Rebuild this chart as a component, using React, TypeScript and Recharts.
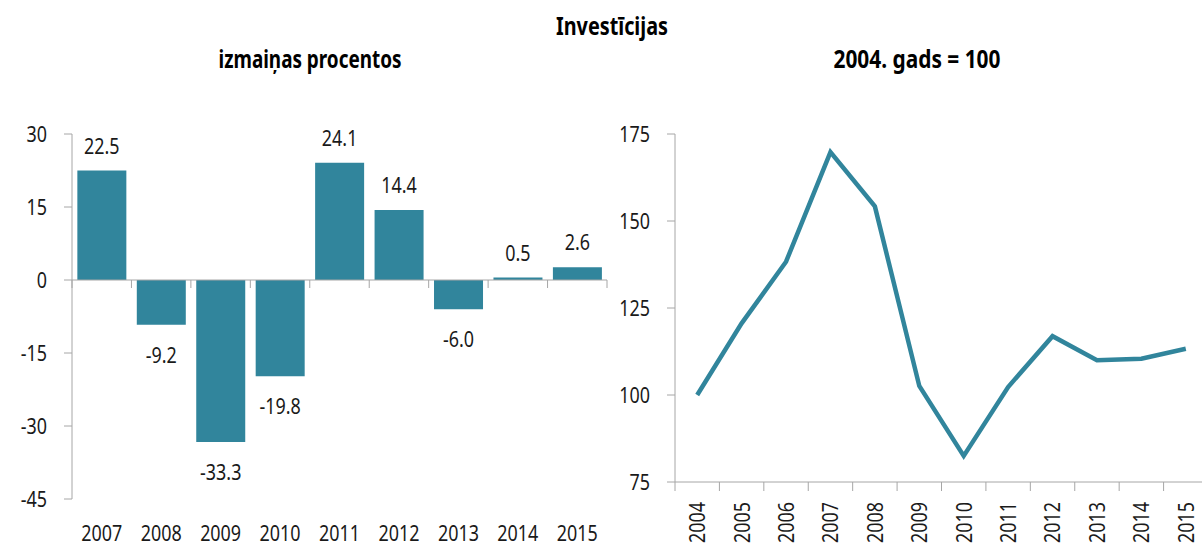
import React from 'react';
import {
    BarChart, Bar, LineChart, Line, XAxis, YAxis, ReferenceLine, LabelList,
} from 'recharts';

// izmaiņas procentos
const growthYears = ['2007', '2008', '2009', '2010', '2011', '2012', '2013', '2014', '2015'];
const growthValues = [22.5, -9.2, -33.3, -19.8, 24.1, 14.4, -6.0, 0.5, 2.6];
const growthTicks = [-45, -30, -15, 0, 15, 30];

// 2004. gads = 100
const indexYears = ['2004', '2005', '2006', '2007', '2008', '2009', '2010', '2011', '2012', '2013', '2014', '2015'];
const indexValues = [100, 120.6, 138.3, 169.8, 154.2, 102.6, 82.5, 102.3, 116.9, 110.0, 110.4, 113.3];
const indexTicks = [75, 100, 125, 150, 175];

const FONT = '"Noto Sans", sans-serif';
const FS = 22.4;
const SX = 0.8; // šaurāks burtu platums kā oriģinālā
const TEAL = '#31859C';
const AXIS = '#a6a6a6';
const TEXT = '#1a1a1a';

const growthData = growthYears.map((year, i) => ({ year, value: growthValues[i] }));
const indexData = indexYears.map((year, i) => ({ year, value: indexValues[i] }));

const NarrowText = ({ x, y, anchor = 'middle', dy = 0, rotate = 0, children }: any) => (
    <g transform={`translate(${x} ${y}) rotate(${rotate}) scale(${SX} 1)`}>
        <text x={0} y={0} dy={dy} textAnchor={anchor} fill={TEXT} fontSize={FS} fontFamily={FONT}>
            {children}
        </text>
    </g>
);

const YTick = (props: any) => {
    const { x, y, payload } = props;
    return <NarrowText x={x} y={y} anchor="end" dy="0.355em">{payload.value}</NarrowText>;
};

const XTick = (props: any) => {
    const { x, y, payload } = props;
    return <NarrowText x={x} y={y} dy="0.71em">{payload.value}</NarrowText>;
};

// vērtības virs / zem stabiņiem
const BarValue = (props: any) => {
    const { x, y, width, height, value } = props;
    const top = Math.min(y, y + height);
    const bottom = Math.max(y, y + height);
    const ty = value >= 0 ? top - 17 : bottom + 38;
    return <NarrowText x={x + width / 2} y={ty}>{Number(value).toFixed(1)}</NarrowText>;
};

// nulles līnija ar iedaļām starp kategorijām
const ZeroLine = (props: any) => {
    const { x1, x2, y1 } = props;
    const n = growthYears.length;
    const step = (x2 - x1) / n;
    return (
        <g>
            <line x1={x1} x2={x2} y1={y1} y2={y1} stroke={AXIS} strokeWidth={1} />
            {Array.from({ length: n + 1 }, (_, i) => (
                <line key={i} x1={x1 + i * step} x2={x1 + i * step} y1={y1} y2={y1 + 8} stroke={AXIS} strokeWidth={1} />
            ))}
        </g>
    );
};

const RotatedYearTick = (props: any) => {
    const { x, y, payload, index } = props;
    const half = payload && payload.offset ? payload.offset : 22.2;
    const isLast = index === indexYears.length - 1;
    return (
        <g>
            <line x1={x - half} x2={x - half} y1={y} y2={y + 9} stroke={AXIS} />
            {isLast && <line x1={x + half} x2={x + half} y1={y} y2={y + 9} stroke={AXIS} />}
            <NarrowText x={x} y={y + 20} anchor="end" dy="0.355em" rotate={-90}>{payload.value}</NarrowText>
        </g>
    );
};

const Title = ({ x, y, len, children }: any) => (
    <text
        x={x}
        y={y}
        textAnchor="middle"
        fontSize={25}
        fontWeight="bold"
        fontFamily={FONT}
        fill="#000"
        textLength={len}
        lengthAdjust="spacingAndGlyphs"
    >
        {children}
    </text>
);

export default function App() {
    return (
        <div style={{ position: 'absolute', left: 0, top: 0, width: 1202, height: 547, overflow: 'hidden', background: '#fff' }}>
            <svg width={1202} height={90} style={{ position: 'absolute', left: 0, top: 0 }}>
                <Title x={612} y={35} len={112}>Investīcijas</Title>
                <Title x={310} y={68} len={183}>izmaiņas procentos</Title>
                <Title x={917} y={68} len={167}>2004. gads = 100</Title>
            </svg>

            <div style={{ position: 'absolute', left: 0, top: 0 }}>
                <BarChart
                    width={620}
                    height={547}
                    data={growthData}
                    margin={{ top: 134, right: 13, bottom: 0, left: 0 }}
                    barCategoryGap="9%"
                >
                    <XAxis
                        dataKey="year"
                        axisLine={false}
                        tickLine={false}
                        tickSize={0}
                        tickMargin={26}
                        height={48}
                        tick={<XTick />}
                        interval={0}
                    />
                    <YAxis
                        domain={[-45, 30]}
                        ticks={growthTicks}
                        width={72}
                        stroke={AXIS}
                        tickSize={8}
                        tickMargin={17}
                        tick={<YTick />}
                        interval={0}
                    />
                    <Bar dataKey="value" fill={TEAL} isAnimationActive={false}>
                        <LabelList dataKey="value" content={BarValue} />
                    </Bar>
                    <ReferenceLine y={0} shape={ZeroLine} />
                </BarChart>
            </div>

            <div style={{ position: 'absolute', left: 600, top: 0 }}>
                <LineChart
                    width={610}
                    height={547}
                    data={indexData}
                    margin={{ top: 134, right: 2, bottom: 0, left: 0 }}
                >
                    <XAxis
                        dataKey="year"
                        scale="band"
                        stroke={AXIS}
                        tickLine={false}
                        tickSize={0}
                        tickMargin={0}
                        height={65}
                        tick={<RotatedYearTick />}
                        interval={0}
                    />
                    <YAxis
                        domain={[75, 175]}
                        ticks={indexTicks}
                        width={75}
                        stroke={AXIS}
                        tickSize={8}
                        tickMargin={17}
                        tick={<YTick />}
                        interval={0}
                    />
                    <Line
                        type="linear"
                        dataKey="value"
                        stroke={TEAL}
                        strokeWidth={4.5}
                        dot={false}
                        isAnimationActive={false}
                    />
                </LineChart>
            </div>
        </div>
    );
}
